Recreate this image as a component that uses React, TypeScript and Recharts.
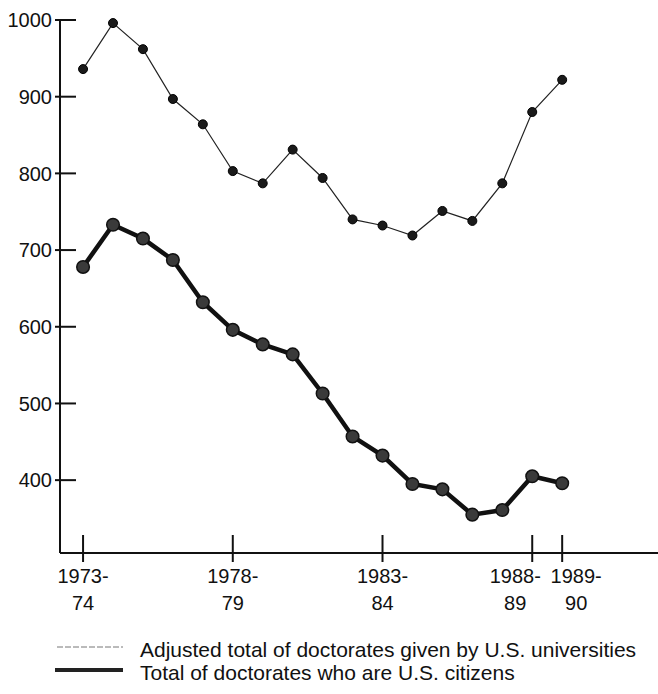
import { CartesianGrid, Legend, Line, LineChart, XAxis, YAxis } from "recharts";

const YEARS = [
  "1973-74", "1974-75", "1975-76", "1976-77", "1977-78", "1978-79",
  "1979-80", "1980-81", "1981-82", "1982-83", "1983-84", "1984-85",
  "1985-86", "1986-87", "1987-88", "1988-89", "1989-90",
];
const ADJUSTED_TOTAL = [936, 996, 962, 897, 864, 803, 787, 831, 794, 740, 732, 719, 751, 738, 787, 880, 922];
const US_CITIZENS = [678, 733, 715, 687, 632, 596, 577, 564, 513, 457, 432, 395, 388, 355, 361, 405, 396];
const Y_TICKS = [400, 500, 600, 700, 800, 900, 1000];
const X_TICKS = [0, 5, 10, 15, 16];

const FONT = "'Liberation Sans', Arial, Helvetica, sans-serif";

// the two last labels are pushed apart so they don't collide
const LABEL_SHIFT: Record<number, number> = { 15: -17, 16: 14 };

const data = YEARS.map((year, i) => ({
  idx: i,
  year,
  adjusted: ADJUSTED_TOTAL[i],
  citizens: US_CITIZENS[i],
}));

function YTick({ x, y, payload }: any) {
  return (
    <g>
      <line x1={x - 5} x2={x + 16} y1={y} y2={y} stroke="#111" strokeWidth={2} />
      <text x={x - 8} y={y} dy="0.36em" textAnchor="end" fontSize={20} fill="#111" fontFamily={FONT}>
        {payload.value}
      </text>
    </g>
  );
}

function XTick({ x, y, payload }: any) {
  const [a, b] = YEARS[payload.value].split("-");
  const lx = x + (LABEL_SHIFT[payload.value] ?? 0);
  return (
    <g>
      <line x1={x} x2={x} y1={y - 18} y2={y + 9} stroke="#111" strokeWidth={2} />
      <text x={lx} y={y + 30} textAnchor="middle" fontSize={20} fill="#111" fontFamily={FONT}>
        {a + "-"}
      </text>
      <text x={lx} y={y + 57} textAnchor="middle" fontSize={20} fill="#111" fontFamily={FONT}>
        {b}
      </text>
    </g>
  );
}

function LegendBox() {
  return (
    <svg width={658} height={64}>
      <line x1={57} x2={123} y1={17} y2={17} stroke="#777" strokeWidth={1} strokeDasharray="6 2" />
      <text x={140} y={27} fontSize={21} fill="#111" fontFamily={FONT}>
        Adjusted total of doctorates given by U.S. universities
      </text>
      <line x1={55} x2={123} y1={40} y2={40} stroke="#222" strokeWidth={4} />
      <text x={140} y={50} fontSize={21} fill="#111" fontFamily={FONT}>
        Total of doctorates who are U.S. citizens
      </text>
    </svg>
  );
}

export default function App() {
  return (
    <div style={{ position: "absolute", left: 0, top: 0, background: "#fff" }}>
      <LineChart width={658} height={694} data={data} margin={{ top: 20, right: 0, bottom: 47, left: 0 }}>
        <CartesianGrid stroke="none" />
        <XAxis
          dataKey="idx"
          type="number"
          domain={[-0.77, 19.2]}
          ticks={X_TICKS}
          height={30}
          tickSize={0}
          tickMargin={0}
          tickLine={false}
          axisLine={{ stroke: "#111", strokeWidth: 2 }}
          tick={<XTick />}
          interval={0}
        />
        <YAxis
          type="number"
          domain={[305, 1000]}
          ticks={Y_TICKS}
          width={60}
          tickSize={0}
          tickMargin={0}
          tickLine={false}
          axisLine={{ stroke: "#111", strokeWidth: 2 }}
          tick={<YTick />}
          interval={0}
        />
        <Legend content={<LegendBox />} wrapperStyle={{ position: "absolute", left: 0, top: 630, width: 658, height: 64 }} />
        <Line
          dataKey="adjusted"
          stroke="#222"
          strokeWidth={1.2}
          dot={{ r: 4.5, fill: "#1a1a1a", stroke: "#000", strokeWidth: 1 }}
          isAnimationActive={false}
        />
        <Line
          dataKey="citizens"
          stroke="#111"
          strokeWidth={4.5}
          dot={{ r: 6.3, fill: "#3a3a3a", stroke: "#111", strokeWidth: 1.5 }}
          isAnimationActive={false}
        />
      </LineChart>
    </div>
  );
}
